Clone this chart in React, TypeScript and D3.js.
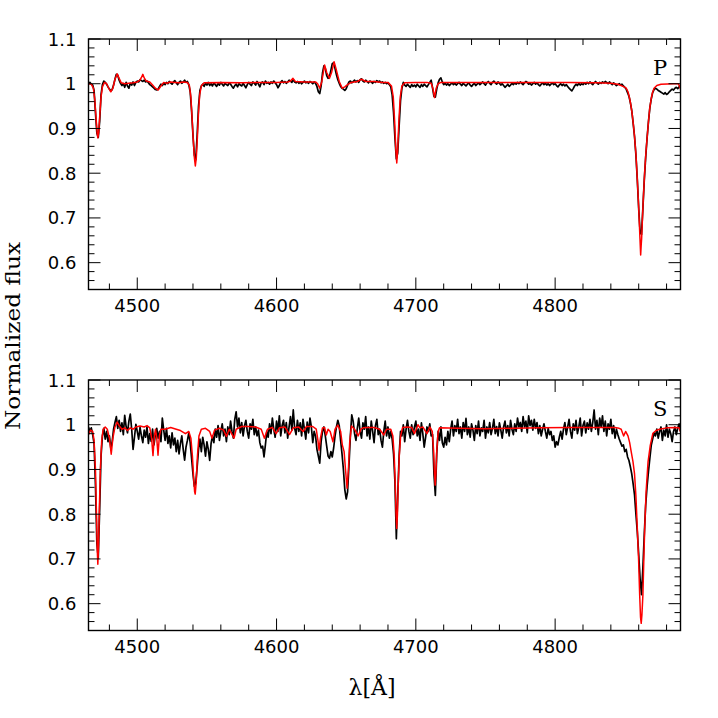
import React from "react";
import * as d3 from "d3";

// ---------- DATA ----------
// Observed spectra sampled on a 1 Å grid from 4465 Å to 4890 Å
const OBS_START = 4465;
const OBS_END = 4890;

const OBS_P: number[] = [
  1.000, 1.003, 0.999, 0.997, 0.985, 0.935, 0.890, 0.880, 0.915, 0.975,
  0.998, 1.006, 1.003, 0.999, 0.993, 0.988, 0.984, 0.987, 0.997, 1.010,
  1.021, 1.019, 1.008, 1.001, 0.996, 1.000, 0.992, 1.003, 0.995, 0.990,
  1.001, 0.997, 1.004, 0.996, 1.003, 1.006, 1.004, 1.009, 1.007, 1.005,
  1.008, 1.004, 1.006, 1.002, 0.998, 0.996, 0.993, 0.990, 0.987, 0.986,
  0.988, 0.994, 0.999, 0.996, 1.001, 0.998, 1.003, 1.000, 1.005, 1.002,
  0.999, 1.004, 1.007, 1.002, 0.998, 1.003, 1.006, 1.001, 1.004, 1.008,
  1.003, 1.005, 0.998, 0.982, 0.940, 0.885, 0.840, 0.830, 0.885, 0.950,
  0.985, 0.995, 0.999, 0.994, 1.001, 0.997, 1.003, 0.996, 1.000, 0.995,
  1.002, 0.998, 0.994, 1.000, 0.997, 1.003, 0.999, 0.995, 1.001, 0.998,
  0.996, 1.002, 0.999, 0.994, 0.990, 0.996, 0.999, 0.993, 1.000, 0.997,
  0.995, 1.001, 0.996, 0.991, 0.998, 1.003, 0.999, 0.996, 1.004, 1.001,
  0.997, 1.005, 0.999, 0.993, 1.002, 1.004, 0.998, 1.006, 1.001, 1.003,
  0.999, 1.004, 1.001, 1.006, 1.002, 0.998, 0.991, 0.996, 1.003, 1.007,
  1.002, 1.005, 1.001, 1.004, 1.008, 1.006, 1.003, 1.009, 1.004, 1.002,
  1.005, 1.001, 1.004, 1.000, 1.003, 1.006, 1.002, 1.004, 1.001, 1.005,
  1.003, 1.000, 1.004, 1.001, 0.994, 0.982, 0.978, 0.995, 1.024, 1.040,
  1.034, 1.018, 1.012, 1.016, 1.030, 1.045, 1.047, 1.034, 1.020, 1.009,
  1.001, 0.994, 0.990, 0.988, 0.985, 0.989, 0.997, 1.004, 1.006, 1.002,
  1.005, 1.008, 1.004, 1.007, 1.003, 1.009, 1.011, 1.006, 1.004, 1.008,
  1.005, 1.002, 1.006, 1.004, 1.001, 1.005, 1.003, 1.007, 1.004, 1.006,
  1.002, 1.004, 1.001, 1.003, 1.000, 1.002, 0.998, 0.993, 0.975, 0.935,
  0.878, 0.832, 0.845, 0.905, 0.962, 0.990, 1.003, 0.997, 0.994, 0.999,
  0.995, 0.992, 0.998, 0.994, 0.997, 0.993, 0.999, 0.995, 0.992, 0.998,
  0.994, 0.999, 0.996, 0.993, 0.998, 1.003, 1.008, 0.990, 0.972, 0.970,
  0.988, 1.002, 1.010, 1.013, 1.004, 0.998, 1.001, 0.997, 1.000, 0.996,
  0.999, 1.002, 0.998, 1.001, 0.997, 1.000, 1.003, 0.999, 0.996, 1.001,
  0.998, 0.995, 0.999, 1.002, 0.997, 0.994, 0.998, 1.001, 0.996, 0.999,
  1.002, 0.998, 1.001, 1.004, 1.000, 0.997, 1.002, 1.005, 1.001, 0.998,
  1.003, 1.006, 1.002, 0.999, 1.004, 1.001, 0.997, 1.000, 0.996, 0.992,
  0.995, 0.999, 0.994, 0.997, 1.001, 0.998, 1.002, 0.999, 1.003, 1.000,
  1.004, 1.001, 0.998, 1.002, 1.005, 1.003, 0.999, 1.001, 0.997, 1.000,
  1.003, 0.999, 1.002, 0.998, 0.995, 0.999, 1.002, 0.998, 1.001, 0.997,
  1.000, 0.996, 0.999, 1.002, 0.998, 1.000, 0.996, 0.993, 0.997, 1.000,
  0.996, 0.999, 0.995, 0.998, 0.994, 0.990, 0.987, 0.984, 0.989, 0.995,
  0.999, 0.996, 1.001, 0.997, 1.000, 0.998, 1.002, 0.999, 1.003, 1.000,
  1.004, 1.001, 0.998, 1.002, 1.005, 1.002, 0.999, 1.003, 1.001, 1.004,
  1.002, 1.005, 1.003, 1.000, 1.004, 1.001, 0.998, 1.002, 0.999, 0.996,
  0.998, 1.000, 0.997, 0.999, 0.995, 0.992, 0.988, 0.980, 0.972, 0.958,
  0.940, 0.912, 0.882, 0.840, 0.785, 0.720, 0.668, 0.663, 0.722, 0.785,
  0.835, 0.878, 0.915, 0.946, 0.966, 0.980, 0.987, 0.990, 0.988, 0.985,
  0.983, 0.981, 0.979, 0.977, 0.980, 0.976, 0.978, 0.982, 0.985, 0.988,
  0.986, 0.990, 0.992, 0.989, 0.993, 0.995,
];

const OBS_S: number[] = [
  0.995, 0.985, 0.993, 0.978, 0.958, 0.865, 0.735, 0.702, 0.810, 0.930,
  0.975, 0.992, 0.968, 0.985, 0.962, 0.975, 0.948, 0.962, 0.990, 1.005,
  1.018, 0.992, 1.010, 0.985, 1.004, 0.978, 1.021, 0.996, 0.982, 1.008,
  1.024, 0.990, 0.945, 0.972, 1.001, 0.985, 0.968, 0.994, 0.975, 0.960,
  0.988, 0.972, 0.995, 0.958, 0.980, 0.963, 0.990, 0.955, 0.978, 0.992,
  0.970, 0.985, 0.962, 1.015, 0.988, 0.965, 0.992, 0.958, 0.975, 0.948,
  0.982, 0.955, 0.970, 0.940, 0.965, 0.935, 0.958, 0.975, 0.945, 0.921,
  0.950, 0.965, 0.982, 0.960, 0.925, 0.890, 0.862, 0.870, 0.905, 0.945,
  0.968, 0.940, 0.972, 0.955, 0.930, 0.962, 0.945, 0.920, 0.958, 0.975,
  0.960, 0.990, 0.972, 0.998, 0.965, 0.985, 1.002, 0.975, 0.990, 0.962,
  0.995, 0.978, 1.008, 0.985, 0.970, 1.012, 1.029, 0.995, 1.015, 0.982,
  1.005, 0.975, 0.998, 1.010, 0.985, 0.970, 1.002, 0.990, 1.012, 0.978,
  0.995, 0.975, 0.988, 0.960, 0.948, 0.952, 0.928, 0.955, 0.985, 0.972,
  1.002, 0.980, 1.015, 0.990, 0.972, 1.008, 0.985, 1.020, 0.975, 0.998,
  1.010, 0.982, 1.005, 0.970, 0.995, 1.018, 0.988, 1.033, 0.992, 0.978,
  1.010, 0.985, 1.004, 0.975, 1.012, 0.990, 0.968, 1.006, 0.982, 1.015,
  0.995, 0.960, 0.985, 0.975, 0.945, 0.930, 0.914, 0.962, 0.985, 0.995,
  0.975, 0.952, 0.930, 0.925, 0.940, 0.928, 0.948, 0.975, 0.995, 1.010,
  0.998, 0.965, 0.935, 0.900, 0.855, 0.834, 0.850, 0.910, 0.975, 1.022,
  1.008, 0.980, 0.965, 0.992, 1.015, 0.985, 0.970, 1.004, 0.990, 1.018,
  0.975, 0.995, 0.968, 1.008, 0.985, 0.960, 0.998, 1.012, 0.978, 0.990,
  0.965, 0.950, 0.985, 1.008, 0.975, 0.995, 0.970, 0.985, 0.968, 0.935,
  0.872, 0.745, 0.842, 0.930, 0.985, 0.975, 1.000, 0.962, 0.990, 1.010,
  0.985, 0.970, 1.000, 0.978, 0.995, 1.008, 0.975, 0.990, 0.965, 1.004,
  0.980, 0.950, 0.972, 0.995, 0.985, 1.002, 0.975, 0.978, 0.890, 0.842,
  0.935, 0.985, 0.965, 0.995, 0.960, 0.950, 0.972, 0.955, 0.985, 0.962,
  0.990, 1.008, 0.975, 0.998, 0.985, 1.012, 0.980, 0.995, 0.970, 1.005,
  0.985, 1.014, 0.978, 0.995, 0.972, 1.002, 0.988, 0.965, 0.998, 0.980,
  1.008, 0.975, 0.993, 0.985, 1.010, 0.970, 0.995, 0.982, 1.005, 0.978,
  0.992, 1.012, 0.980, 0.996, 0.975, 1.004, 0.988, 0.970, 0.995, 1.008,
  0.982, 0.998, 0.975, 1.010, 0.990, 0.978, 1.002, 0.985, 1.015, 0.995,
  1.005, 0.985, 1.018, 0.995, 1.008, 0.982, 1.020, 0.998, 1.010, 0.988,
  1.012, 0.992, 1.005, 0.980, 0.998, 0.975, 0.990, 1.002, 0.985, 0.970,
  0.992, 0.978, 0.985, 0.965, 0.975, 0.950, 0.962, 0.955, 0.972, 0.985,
  0.968, 0.990, 1.005, 0.978, 0.995, 1.012, 0.985, 0.970, 1.002, 0.988,
  1.010, 0.980, 0.995, 1.015, 0.975, 0.998, 1.008, 0.982, 1.004, 0.990,
  1.012, 0.985, 1.005, 1.033, 0.990, 1.010, 0.978, 1.015, 0.995, 1.020,
  0.985, 1.008, 0.975, 1.002, 0.990, 1.012, 0.980, 0.998, 0.970, 0.990,
  0.978, 0.968, 0.960, 0.952, 0.955, 0.940, 0.945, 0.928, 0.920, 0.906,
  0.890, 0.868, 0.843, 0.800, 0.760, 0.710, 0.655, 0.620, 0.680, 0.755,
  0.820, 0.862, 0.895, 0.925, 0.954, 0.968, 0.982, 0.975, 0.990, 0.970,
  0.985, 0.995, 0.965, 0.988, 0.975, 1.000, 0.972, 0.990, 0.980, 0.962,
  0.985, 0.995, 0.978, 0.992, 1.002, 0.985,
];

// Model (synthetic) spectra: [wavelength Å, normalized flux]
const MODEL_P: [number, number][] = [
  [4465, 1.0], [4467, 0.999], [4468.5, 0.99], [4469.5, 0.965], [4470.5, 0.92],
  [4471.2, 0.89], [4471.7, 0.879], [4472.3, 0.89], [4473, 0.925], [4474, 0.97],
  [4475, 0.993], [4476.5, 1.003], [4478, 1.0], [4479.5, 0.99], [4481, 0.982],
  [4482.5, 0.99], [4484, 1.01], [4485.6, 1.022], [4487, 1.012], [4488.5, 1.002],
  [4491, 1.0], [4494, 1.001], [4497, 1.002], [4500, 1.004], [4502, 1.008],
  [4503, 1.014], [4504, 1.021], [4505, 1.013], [4506.5, 1.006], [4509, 1.004],
  [4511, 0.997], [4513, 0.99], [4515, 0.986], [4517, 0.995], [4519, 1.003],
  [4521, 1.001], [4524, 1.004], [4527, 1.003], [4530, 1.002], [4533, 1.004],
  [4536, 1.003], [4537.5, 0.995], [4538.5, 0.97], [4539.5, 0.915], [4540.3, 0.87],
  [4541, 0.835], [4541.7, 0.816], [4542.4, 0.835], [4543.1, 0.875], [4543.9, 0.93],
  [4544.8, 0.975], [4546, 0.995], [4548, 1.002], [4560, 1.003], [4575, 1.002],
  [4590, 1.003], [4600, 1.003], [4608, 1.004], [4610, 1.006], [4611.8, 1.012],
  [4613.5, 1.005], [4620, 1.004], [4628, 1.004], [4629.5, 1.0], [4631, 0.99],
  [4632.5, 1.005], [4634.5, 1.042], [4636, 1.025], [4638, 1.012], [4639.5, 1.025],
  [4641.3, 1.049], [4643, 1.03], [4645, 1.005], [4647.2, 0.99], [4649, 0.993],
  [4651, 0.998], [4653.7, 1.003], [4658, 1.005], [4661, 1.01], [4664, 1.005],
  [4670, 1.005], [4676, 1.003], [4680, 1.003], [4682.5, 0.995], [4683.8, 0.97],
  [4684.8, 0.915], [4685.6, 0.855], [4686.3, 0.823], [4687, 0.855], [4687.8, 0.915],
  [4688.8, 0.97], [4690, 0.995], [4692, 1.002], [4700, 1.003], [4708, 1.003],
  [4711, 1.001], [4712.2, 0.99], [4713.4, 0.969], [4714.6, 0.99], [4716, 1.0],
  [4718, 1.003], [4730, 1.003], [4750, 1.003], [4770, 1.003], [4790, 1.003],
  [4810, 1.003], [4830, 1.002], [4840, 1.001], [4845, 0.999], [4847.4, 0.996],
  [4849.5, 0.993], [4851, 0.99], [4852.3, 0.982], [4853.5, 0.967], [4854.5, 0.95],
  [4855.4, 0.93], [4856.3, 0.905], [4857.1, 0.878], [4858, 0.843], [4858.7, 0.803],
  [4859.3, 0.767], [4859.9, 0.729], [4860.4, 0.692], [4860.9, 0.654], [4861.4, 0.617],
  [4861.8, 0.64], [4862.1, 0.654], [4862.6, 0.692], [4863.1, 0.729], [4863.7, 0.767],
  [4864.3, 0.803], [4865.1, 0.843], [4866, 0.878], [4867, 0.915], [4867.9, 0.945],
  [4869, 0.967], [4869.8, 0.979], [4871, 0.99], [4873, 0.996], [4876, 0.999],
  [4885, 1.0], [4888.5, 1.0], [4890, 0.988],
];

const MODEL_S: [number, number][] = [
  [4465, 0.978], [4466.5, 0.988], [4468, 0.985], [4469, 0.965], [4470, 0.9],
  [4470.8, 0.79], [4471.3, 0.72], [4471.7, 0.688], [4472.1, 0.72], [4472.7, 0.8],
  [4473.5, 0.9], [4474.5, 0.965], [4475.5, 0.99], [4477, 0.995], [4478.5, 0.99],
  [4480, 0.97], [4481.3, 0.934], [4482.5, 0.97], [4484, 0.995], [4485.6, 1.006],
  [4487, 0.998], [4489, 0.99], [4491, 0.993], [4493, 0.987], [4495, 0.993],
  [4497, 0.99], [4499, 0.995], [4502, 0.997], [4505, 0.995], [4507, 0.998],
  [4509, 0.993], [4510.3, 0.97], [4511.3, 0.931], [4512.3, 0.975], [4513.1, 0.99],
  [4514, 0.97], [4514.9, 0.932], [4515.9, 0.975], [4517, 0.99], [4520, 0.99],
  [4524, 0.994], [4528, 0.99], [4531, 0.987], [4534.6, 0.98], [4537, 0.985],
  [4538.5, 0.97], [4539.6, 0.93], [4540.5, 0.88], [4541.2, 0.85], [4541.6, 0.845],
  [4542.3, 0.87], [4543.2, 0.93], [4544.3, 0.975], [4546, 0.99], [4549, 0.992],
  [4552, 0.985], [4553.7, 0.97], [4555.5, 0.988], [4559, 0.992], [4562, 0.988],
  [4564, 0.974], [4566, 0.99], [4569.5, 0.97], [4571, 0.99], [4575, 0.996],
  [4580, 0.996], [4585, 0.995], [4589, 0.99], [4591.3, 0.97], [4593.5, 0.99],
  [4597, 0.994], [4599.7, 0.98], [4602, 0.993], [4606, 0.995], [4609.3, 0.978],
  [4612, 0.993], [4616, 0.995], [4619, 0.985], [4621.5, 0.996], [4626, 0.996],
  [4628.5, 0.99], [4629.7, 0.965], [4630.5, 0.943], [4631.5, 0.97], [4633, 0.993],
  [4634.5, 0.994], [4635.7, 0.977], [4637, 0.99], [4638.5, 0.985], [4640.5, 0.962],
  [4642, 0.99], [4644, 0.999], [4646, 0.985], [4647.2, 0.955], [4648.5, 0.94],
  [4649.5, 0.9], [4650.6, 0.858], [4651.6, 0.9], [4652.5, 0.96], [4653.8, 0.997],
  [4656, 0.99], [4658.6, 0.975], [4660.5, 0.99], [4662.2, 0.993], [4666, 0.994],
  [4670, 0.994], [4674, 0.99], [4677, 0.977], [4679, 0.99], [4682, 0.99],
  [4683.5, 0.975], [4684.5, 0.93], [4685.3, 0.86], [4685.8, 0.8], [4686.3, 0.768],
  [4686.8, 0.8], [4687.3, 0.86], [4688.1, 0.93], [4689.1, 0.975], [4690.5, 0.994],
  [4694, 0.995], [4697, 0.994], [4699, 0.98], [4701.5, 1.0], [4703, 0.993],
  [4705, 0.995], [4708, 0.98], [4710, 0.995], [4711.8, 0.985], [4712.8, 0.94],
  [4713.4, 0.89], [4713.9, 0.865], [4714.4, 0.89], [4715, 0.94], [4716, 0.985],
  [4717, 0.993], [4730, 0.992], [4750, 0.991], [4770, 0.992], [4790, 0.993],
  [4810, 0.994], [4830, 0.994], [4843, 0.994], [4846, 0.992], [4847.4, 0.99],
  [4849.2, 0.975], [4850.6, 0.985], [4852.3, 0.975], [4853.5, 0.96], [4854.6, 0.94],
  [4855.9, 0.917], [4857, 0.89], [4858, 0.84], [4859, 0.768], [4859.9, 0.7],
  [4860.7, 0.619], [4861.3, 0.57], [4861.8, 0.556], [4862.3, 0.575], [4863, 0.619],
  [4863.6, 0.69], [4864.3, 0.768], [4865.3, 0.85], [4866.7, 0.917], [4868.3, 0.954],
  [4870.2, 0.981], [4872.5, 0.987], [4875, 0.99], [4880, 0.993], [4886, 0.994],
  [4889, 0.993], [4890, 0.985],
];

const X_DOMAIN: [number, number] = [4465, 4890];
const Y_DOMAIN: [number, number] = [0.54, 1.1];
const X_MAJOR = [4500, 4600, 4700, 4800];
const Y_MAJOR = [0.6, 0.7, 0.8, 0.9, 1, 1.1];
const Y_LABELS = ["0.6", "0.7", "0.8", "0.9", "1", "1.1"];
const PANEL_TAGS = ["P", "S"];

// ---------- LAYOUT ----------
const W = 718;
const H = 718;
const LEFT = 88.5;
const RIGHT = 680.5;
const PANEL_H = 250.5;
const PANEL_TOPS = [39, 380];
const MAJOR_LEN = 12;
const MINOR_LEN = 6;

const x = d3.scaleLinear().domain(X_DOMAIN).range([LEFT, RIGHT]);
const xMinor = d3.range(4480, 4890, 20).filter((v) => v % 100 !== 0);
const yMinor = d3.range(56, 110, 2).map((v) => v / 100).filter((v) => Math.round(v * 100) % 10 !== 0);
const obsWl = d3.range(OBS_START, OBS_END + 1, 1);

function Panel({ top, obs, model, tag, idx }: { top: number; obs: number[]; model: [number, number][]; tag: string; idx: number }) {
  const bottom = top + PANEL_H;
  const y = d3.scaleLinear().domain(Y_DOMAIN).range([bottom, top]);
  const obsLine = d3
    .line<number>()
    .x((_, i) => x(obsWl[i]))
    .y((d) => y(d));
  const modelLine = d3
    .line<[number, number]>()
    .x((d) => x(d[0]))
    .y((d) => y(d[1]));
  const clipId = `clip-${idx}`;
  return (
    <g>
      <defs>
        <clipPath id={clipId}>
          <rect x={LEFT} y={top} width={RIGHT - LEFT} height={PANEL_H} />
        </clipPath>
      </defs>
      <g clipPath={`url(#${clipId})`}>
        <path d={obsLine(obs) || ""} fill="none" stroke="#000" strokeWidth={1.7} strokeLinejoin="round" />
        <path d={modelLine(model) || ""} fill="none" stroke="#ff0000" strokeWidth={1.5} strokeLinejoin="round" />
      </g>
      {/* ticks */}
      <g stroke="#000" strokeWidth={1}>
        {X_MAJOR.map((v) => (
          <g key={`xm${v}`}>
            <line x1={x(v)} x2={x(v)} y1={bottom} y2={bottom - MAJOR_LEN} />
            <line x1={x(v)} x2={x(v)} y1={top} y2={top + MAJOR_LEN} />
          </g>
        ))}
        {xMinor.map((v) => (
          <g key={`xn${v}`}>
            <line x1={x(v)} x2={x(v)} y1={bottom} y2={bottom - MINOR_LEN} />
            <line x1={x(v)} x2={x(v)} y1={top} y2={top + MINOR_LEN} />
          </g>
        ))}
        {Y_MAJOR.map((v) => (
          <g key={`ym${v}`}>
            <line x1={LEFT} x2={LEFT + MAJOR_LEN} y1={y(v)} y2={y(v)} />
            <line x1={RIGHT} x2={RIGHT - MAJOR_LEN} y1={y(v)} y2={y(v)} />
          </g>
        ))}
        {yMinor.map((v) => (
          <g key={`yn${v}`}>
            <line x1={LEFT} x2={LEFT + MINOR_LEN} y1={y(v)} y2={y(v)} />
            <line x1={RIGHT} x2={RIGHT - MINOR_LEN} y1={y(v)} y2={y(v)} />
          </g>
        ))}
      </g>
      <rect x={LEFT} y={top} width={RIGHT - LEFT} height={PANEL_H} fill="none" stroke="#000" strokeWidth={1.4} />
      {/* tick labels */}
      <g fontFamily="'DejaVu Sans', sans-serif" fontSize={18} fill="#000">
        {X_MAJOR.map((v) => (
          <text key={`xl${v}`} x={x(v)} y={bottom + 22.8} textAnchor="middle">
            {v}
          </text>
        ))}
        {Y_MAJOR.map((v, i) => (
          <text key={`yl${v}`} x={LEFT - 12} y={y(v)} textAnchor="end" dominantBaseline="central">
            {Y_LABELS[i]}
          </text>
        ))}
      </g>
      <text x={653} y={top + 36} fontFamily="'DejaVu Serif', serif" fontSize={21} fill="#000">
        {tag}
      </text>
    </g>
  );
}

export default function App() {
  return (
    <svg
      width={W}
      height={H}
      viewBox={`0 0 ${W} ${H}`}
      style={{ position: "absolute", left: 0, top: 0, background: "#fff" }}
    >
      <rect x={0} y={0} width={W} height={H} fill="#fff" />
      <Panel top={PANEL_TOPS[0]} obs={OBS_P} model={MODEL_P} tag={PANEL_TAGS[0]} idx={0} />
      <Panel top={PANEL_TOPS[1]} obs={OBS_S} model={MODEL_S} tag={PANEL_TAGS[1]} idx={1} />
      <text
        transform="translate(20,336) rotate(-90)"
        textAnchor="middle"
        fontFamily="'DejaVu Serif', serif"
        fontSize={21}
        fill="#000"
        textLength={188}
        lengthAdjust="spacingAndGlyphs"
      >
        Normalized flux
      </text>
      <text x={372} y={695} textAnchor="middle" fontFamily="'DejaVu Serif', serif" fontSize={22} fill="#000">
        λ[Å]
      </text>
    </svg>
  );
}
